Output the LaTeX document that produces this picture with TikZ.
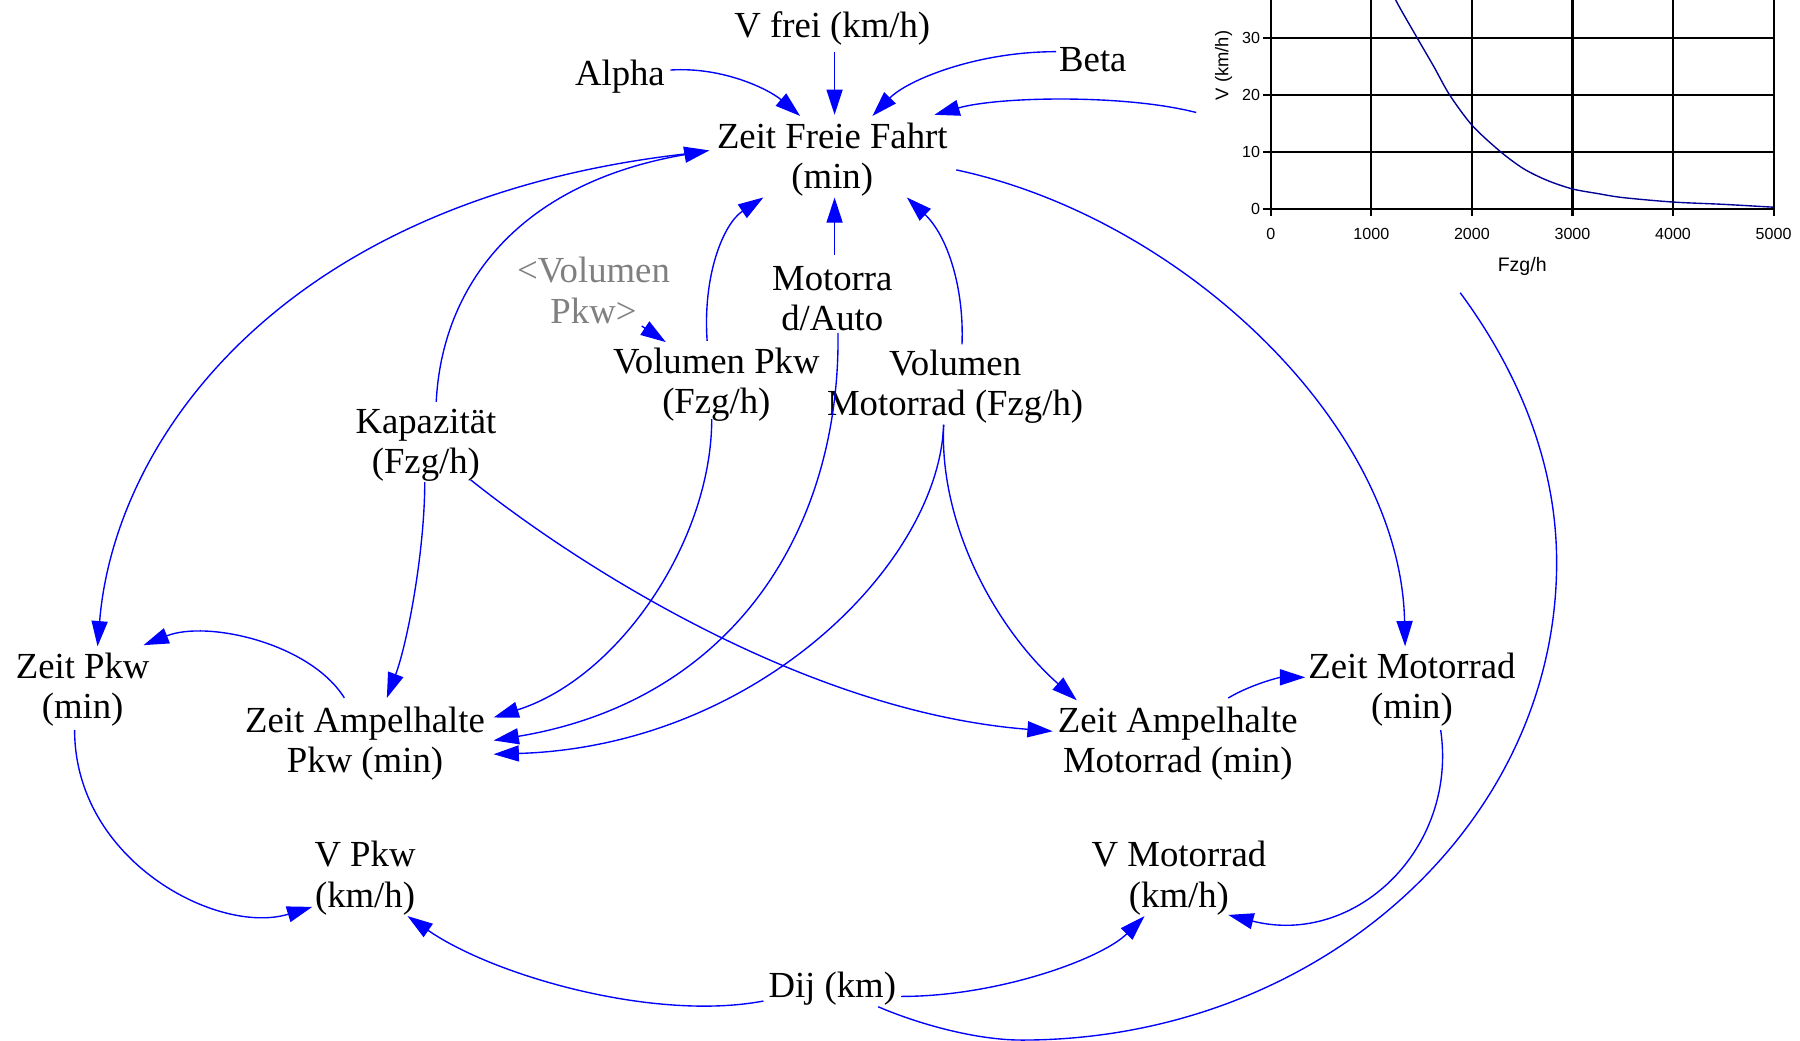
\documentclass[tikz,border=0pt]{standalone}
\usepackage{fontspec}
\setmainfont{Liberation Serif}
\newfontfamily\graphfont{Liberation Sans}
\usetikzlibrary{arrows.meta}
\definecolor{linkblue}{RGB}{0,0,255}
\definecolor{curvecol}{RGB}{0,0,150}
\definecolor{shadowgray}{RGB}{128,128,128}
\begin{document}
\begin{tikzpicture}[x=0.5pt,y=-0.5pt,
  var/.style={align=center, inner sep=0pt, font=\fontsize{16}{17.5}\selectfont},
  shadowvar/.style={var, text=shadowgray},
  link/.style={draw=linkblue, line width=0.6pt, -{Triangle[length=11pt,width=7pt]}},
  plainlink/.style={draw=linkblue, line width=0.6pt},
  gridline/.style={draw=black, line width=0.9pt},
  ticklab/.style={inner sep=0pt, font=\graphfont\fontsize{7}{8}\selectfont},
  axlab/.style={inner sep=0pt, font=\graphfont\fontsize{8.5}{10}\selectfont},
  curveline/.style={draw=curvecol, line width=0.6pt}
]
\useasboundingbox (0,0) rectangle (1568,906);

% ---------- graph (lookup) ----------
\foreach \k in {0,...,5} \draw[gridline] ({1107+87.6*\k},0) -- ({1107+87.6*\k},188);
\foreach \k in {0,...,3} \draw[gridline] (1100,{182-49.67*\k}) -- (1545,{182-49.67*\k});
\node[ticklab, anchor=east] (gy0) at (1098,182) {0};
\node[ticklab, anchor=east] (gy10) at (1098,132.3) {10};
\node[ticklab, anchor=east] (gy20) at (1098,82.7) {20};
\node[ticklab, anchor=east] (gy30) at (1098,33) {30};
\node[ticklab] (gx0) at (1107,204) {0};
\node[ticklab] (gx1) at (1194.6,204) {1000};
\node[ticklab] (gx2) at (1282.2,204) {2000};
\node[ticklab] (gx3) at (1369.8,204) {3000};
\node[ticklab] (gx4) at (1457.4,204) {4000};
\node[ticklab] (gx5) at (1545,204) {5000};
\node[axlab] (gxt) at (1326,232) {Fzg/h};
\node[axlab, rotate=90, font=\graphfont\fontsize{8}{9}\selectfont] (gyt) at (1066,57) {V (km/h)};
\begin{scope}
\clip (1107,0) rectangle (1546,183);
\draw[curveline] plot[smooth] coordinates {(1210.4,-16.7) (1215.4,-0.8) (1234.5,33.0) (1248.9,57.8) (1262.8,82.7) (1282.2,109.0) (1306.1,131.3) (1326.9,146.8) (1347.9,157.2) (1369.8,164.6) (1391.7,168.6) (1413.6,172.1) (1457.4,176.0) (1501.2,178.0) (1545,180.5)};
\end{scope}
\coordinate (gstart) at (1042,98);
\coordinate (gend) at (1272,255);

% ---------- variables ----------
\node[var] (vfrei) at (725,25) {V frei (km/h)};
\node[var] (alpha) at (540,67) {Alpha};
\node[var] (beta) at (952,52) {Beta};
\node[var] (zff) at (725,139) {Zeit Freie Fahrt\\(min)};
\node[shadowvar] (shadow) at (517,253) {<Volumen\\Pkw>};
\node[var] (mauto) at (725,260) {Motorra\\d/Auto};
\node[var] (vpkw) at (624,335) {Volumen Pkw\\(Fzg/h)};
\node[var] (vmot) at (832,337) {Volumen\\Motorrad (Fzg/h)};
\node[var] (kap) at (371,388) {Kapazität\\(Fzg/h)};
\node[var] (zpkw) at (72,601) {Zeit Pkw\\(min)};
\node[var] (zap) at (318,648) {Zeit Ampelhalte\\Pkw (min)};
\node[var] (zam) at (1026,648) {Zeit Ampelhalte\\Motorrad (min)};
\node[var] (zmot) at (1230,601) {Zeit Motorrad\\(min)};
\node[var] (vpk) at (318,765) {V Pkw\\(km/h)};
\node[var] (vmo) at (1027,765) {V Motorrad\\(km/h)};
\node[var] (dij) at (725,861) {Dij (km)};

% ---------- connectors ----------
\draw[link] ([shift={(2,20)}]vfrei.center) -- ([shift={(2,-39)}]zff.center);
\draw[link] ([shift={(44,-6)}]alpha.center) .. controls (630,58) and (670,78) .. ([shift={(-28,-38)}]zff.center);
\draw[link] ([shift={(-32,-7)}]beta.center) .. controls (850,45) and (790,70) .. ([shift={(35,-38)}]zff.center);
\draw[link] (gstart) .. controls (980,82) and (870,84) .. ([shift={(89,-39)}]zff.center);
\draw[link] ([shift={(-118,-6)}]zff.center) .. controls (250,170) and (100,380) .. ([shift={(13,-38)}]zpkw.center);
\draw[link] ([shift={(9,-38)}]kap.center) .. controls (385,250) and (450,160) .. ([shift={(-107,-8)}]zff.center);
\draw[link] ([shift={(-8,-38)}]vpkw.center) .. controls (612,240) and (630,195) .. ([shift={(-60,33)}]zff.center);
\draw[link] ([shift={(2,-38)}]mauto.center) -- ([shift={(2,33)}]zff.center);
\draw[link] ([shift={(6,-37)}]vmot.center) .. controls (840,250) and (825,205) .. ([shift={(65,33)}]zff.center);
\draw[link] ([shift={(108,9)}]zff.center) .. controls (1030,190) and (1220,370) .. ([shift={(-6,-38)}]zmot.center);
\draw[link] ([shift={(-1,32)}]kap.center) .. controls (370,480) and (355,560) .. ([shift={(19,-40)}]zap.center);
\draw[link] ([shift={(39,30)}]kap.center) .. controls (500,490) and (700,620) .. ([shift={(-109,-11)}]zam.center);
\draw[link] ([shift={(-4,30)}]vpkw.center) .. controls (620,470) and (540,590) .. ([shift={(112,-23)}]zap.center);
\draw[link] ([shift={(5,30)}]mauto.center) .. controls (732,460) and (640,610) .. ([shift={(112,-3)}]zap.center);
\draw[link] ([shift={(-10,33)}]vmot.center) .. controls (818,490) and (660,650) .. ([shift={(112,9)}]zap.center);
\draw[link] ([shift={(-10,33)}]vmot.center) .. controls (818,460) and (870,550) .. ([shift={(-88,-38)}]zam.center);
\draw[link] ([shift={(-18,-40)}]zap.center) .. controls (270,560) and (180,540) .. ([shift={(53,-39)}]zpkw.center);
\draw[link] ([shift={(44,-40)}]zam.center) .. controls (1090,596) and (1115,590) .. ([shift={(-93,-11)}]zmot.center);
\draw[link] ([shift={(-7,35)}]zpkw.center) .. controls (65,750) and (190,815) .. ([shift={(-46,25)}]vpk.center);
\draw[link] ([shift={(25,35)}]zmot.center) .. controls (1270,740) and (1180,825) .. ([shift={(43,32)}]vmo.center);
\draw[link] ([shift={(-60,11)}]dij.center) .. controls (570,890) and (430,850) .. ([shift={(37,33)}]vpk.center);
\draw[link] ([shift={(60,7)}]dij.center) .. controls (870,868) and (960,835) .. ([shift={(-30,33)}]vmo.center);
\draw[plainlink] ([shift={(40,16)}]dij.center) .. controls (800,892) and (850,906) .. (890,906) .. controls (1147,906) and (1356,720) .. (1356,490) .. controls (1356,400) and (1320,320) .. (gend);
\draw[link] ([shift={(42,31)}]shadow.center) -- ([shift={(-44,-37)}]vpkw.center);
\end{tikzpicture}
\end{document}
